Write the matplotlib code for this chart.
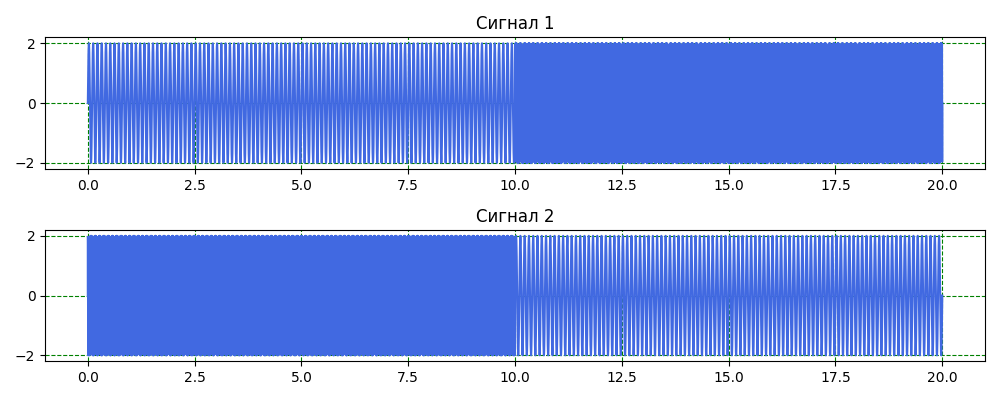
import numpy as np
import matplotlib.pyplot as plt

# параметры сигналов
duration = 20
n_samples = 20000
amplitude = 2
freq_low = 10
freq_high = 110
switch_time = 10
titles = ['Сигнал 1', 'Сигнал 2']
line_color = 'royalblue'

t = np.linspace(0, duration, n_samples)

s_low = amplitude * np.sin(2 * np.pi * freq_low * t)
s_high = amplitude * np.sin(2 * np.pi * freq_high * t)

signal1 = np.where(t < switch_time, s_low, s_high)
signal2 = np.where(t < switch_time, s_high, s_low)

fig, axes = plt.subplots(2, 1, figsize=(10, 4))

for ax, sig, title in zip(axes, [signal1, signal2], titles):
    ax.plot(t, sig, color=line_color)
    ax.set_title(title)
    ax.set_yticks([-2, 0, 2])
    ax.grid(True, color='green', linestyle='--')

plt.tight_layout()
plt.savefig('out.png')
